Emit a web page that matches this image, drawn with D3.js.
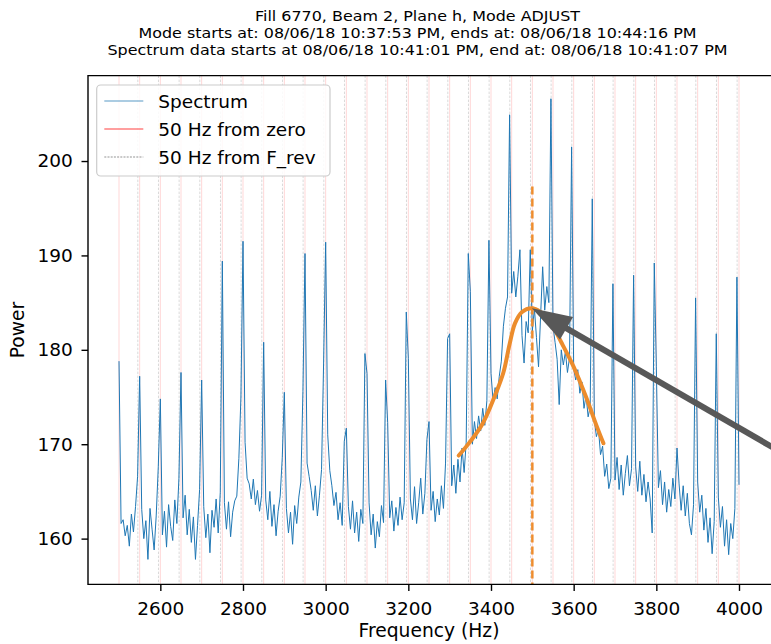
<!DOCTYPE html>
<html><head><meta charset="utf-8">
<script src="https://cdn.jsdelivr.net/npm/d3@7"></script>
<style>body{margin:0;background:#fff}svg{display:block}text{font-family:"DejaVu Sans",sans-serif;fill:#000}</style>
</head><body><svg id="c" width="771" height="644"></svg>
<script>
// ---------- data ----------
const titleLines = [
  "Fill 6770, Beam 2, Plane h, Mode ADJUST",
  "Mode starts at: 08/06/18 10:37:53 PM, ends at: 08/06/18 10:44:16 PM",
  "Spectrum data starts at 08/06/18 10:41:01 PM, end at: 08/06/18 10:41:07 PM"
];
const xLabel = "Frequency (Hz)";
const yLabel = "Power";
const xTicks = [2600, 2800, 3000, 3200, 3400, 3600, 3800, 4000];
const yTicks = [160, 170, 180, 190, 200];
const xDomain = [2425, 4075];
const yDomain = [155.15, 209.05];
const legendLabels = ["Spectrum", "50 Hz from zero", "50 Hz from F_rev"];

// spectrum sampled every 5 Hz from 2500 Hz (one row per 50 Hz)
const freqStart = 2500, freqStep = 5;
const power = [
  178.8,161.6,162.0,160.3,161.4,159.2,162.6,160.7,163.4,166.6,
  177.2,163.1,160.0,161.9,157.8,163.2,161.0,158.8,162.4,167.6,
  174.8,160.4,162.9,159.1,163.6,161.3,159.8,164.1,161.6,166.4,
  177.6,162.2,164.6,160.4,163.1,159.6,162.3,157.8,161.4,165.2,
  176.8,163.4,160.1,162.6,158.5,163.0,161.2,164.2,160.6,164.9,
  189.4,163.8,161.0,163.9,160.2,162.8,164.0,164.5,168.5,175.0,
  191.5,170.2,166.4,165.8,164.2,166.3,163.6,165.1,162.9,164.6,
  180.8,164.1,162.0,165.0,161.3,163.6,160.3,162.9,164.5,168.6,
  175.5,163.2,160.6,162.8,159.4,163.5,161.6,164.4,166.0,175.6,
  190.2,168.0,166.6,165.1,163.0,165.6,162.4,164.6,167.3,178.6,
  191.4,171.0,167.2,165.6,163.5,164.9,162.0,163.8,161.4,170.3,
  171.7,163.4,161.0,164.0,160.6,162.8,159.7,163.1,161.6,179.6,
  177.5,163.8,160.4,162.6,159.0,161.8,160.2,163.5,161.7,176.8,
  172.3,162.2,164.0,160.8,163.3,161.4,164.4,162.0,163.8,184.0,
  179.1,164.2,162.0,165.5,161.6,163.8,166.4,162.6,164.8,170.5,
  172.4,163.0,165.0,161.8,164.2,162.5,165.6,163.2,168.0,181.2,
  181.7,165.6,167.8,164.8,168.4,166.0,169.6,167.0,170.2,190.2,
  186.2,170.0,172.4,170.6,173.0,171.4,173.8,172.0,174.6,191.6,
  177.5,174.6,176.0,174.8,177.2,178.8,182.5,184.4,185.6,204.9,
  186.0,188.3,185.6,187.8,190.6,181.5,178.6,183.0,181.8,190.6,
  182.0,184.4,181.3,178.2,183.6,188.8,184.2,186.7,185.0,206.6,
  182.5,180.8,179.0,174.2,180.0,178.4,179.8,177.6,179.2,201.5,
  178.0,176.8,177.9,175.4,176.6,173.8,175.2,172.9,174.0,196.0,
  172.6,170.8,171.6,168.9,169.8,166.6,167.9,165.3,166.4,187.0,
  166.2,168.6,165.2,167.8,164.6,166.9,168.8,165.6,167.4,187.9,
  167.6,165.0,168.2,164.6,166.8,163.9,166.0,164.2,160.6,189.2,
  178.2,165.4,167.2,163.6,166.0,162.8,165.2,163.4,166.4,164.2,
  169.6,165.8,163.0,165.6,162.4,164.8,161.6,160.4,163.6,185.5,
  166.0,162.8,164.6,160.9,163.2,159.6,162.2,158.4,161.8,181.7,
  164.4,161.2,163.4,159.2,162.0,158.3,161.6,160.0,163.2,187.7,
  165.7
];

const linesFromZero = [2500,2550,2600,2650,2700,2750,2800,2850,2900,2950,3000,3050,3100,3150,3200,3250,
  3300,3350,3400,3450,3500,3550,3600,3650,3700,3750,3800,3850,3900,3950,4000];
const linesFromFrev = [2545.5,2595.5,2645.5,2695.5,2745.5,2795.5,2845.5,2895.5,2945.5,2995.5,3045.5,3095.5,
  3145.5,3195.5,3245.5,3295.5,3345.5,3395.5,3445.5,3495.5,3545.5,3595.5,3645.5,3695.5,3745.5,3795.5,
  3845.5,3895.5,3945.5,3995.5];

const fitFreq  = [3322, 3350, 3380, 3410, 3430, 3445, 3458, 3475, 3498, 3520, 3545, 3570, 3600, 3630, 3655, 3672];
const fitPower = [168.8,170.3,172.2,175.2,177.6,180.6,182.8,184.0,184.4,184.0,182.8,180.8,178.2,175.0,172.0,170.1];

const markerFreq = 3500, markerTop = 197.3;
const arrowTip = [3499, 184.4], arrowTail = [4195, 166.8];

// ---------- layout ----------
const W = 771, H = 644;
const L = 88, R = 770, T = 75.6, B = 584.4;
const svg = d3.select("#c");
const x = d3.scaleLinear().domain(xDomain).range([L, R]);
const y = d3.scaleLinear().domain(yDomain).range([B, T]);

svg.append("defs").append("clipPath").attr("id","clip")
  .append("rect").attr("x",L).attr("y",T).attr("width",R-L+4).attr("height",B-T);
const plot = svg.append("g").attr("clip-path","url(#clip)");

// reference lines
plot.selectAll("line.z").data(linesFromZero).join("line")
  .attr("x1",d=>x(d)).attr("x2",d=>x(d)).attr("y1",T).attr("y2",B)
  .attr("stroke","#ff0000").attr("stroke-opacity",0.16).attr("stroke-width",1);
plot.selectAll("line.f").data(linesFromFrev).join("line")
  .attr("x1",d=>x(d)).attr("x2",d=>x(d)).attr("y1",T).attr("y2",B)
  .attr("stroke","#888").attr("stroke-opacity",0.4).attr("stroke-width",0.8)
  .attr("stroke-dasharray","2.5,1.5");

// spectrum
const spec = power.map((p,i)=>[freqStart + i*freqStep, p]);
plot.append("path").datum(spec)
  .attr("d", d3.line().x(d=>x(d[0])).y(d=>y(d[1])))
  .attr("fill","none").attr("stroke","#1f77b4").attr("stroke-width",1).attr("stroke-linejoin","round");

// orange marker + fit
plot.append("line").attr("x1",x(markerFreq)).attr("x2",x(markerFreq))
  .attr("y1",y(markerTop)).attr("y2",B)
  .attr("stroke","#ee8d2f").attr("stroke-width",2.5).attr("stroke-dasharray","8,4");
const fit = fitFreq.map((f,i)=>[f, fitPower[i]]);
plot.append("path").datum(fit)
  .attr("d", d3.line().curve(d3.curveCatmullRom.alpha(0.5)).x(d=>x(d[0])).y(d=>y(d[1])))
  .attr("fill","none").attr("stroke","#ec8c2c").attr("stroke-width",4).attr("stroke-linecap","round");

// arrow
{
  const tx = x(arrowTip[0]), ty = y(arrowTip[1]);
  const sx = x(arrowTail[0]), sy = y(arrowTail[1]);
  const dx = tx - sx, dy = ty - sy, len = Math.hypot(dx,dy);
  const ux = dx/len, uy = dy/len, px = -uy, py = ux;
  const headLen = 40, headHalf = 13;
  const bx = tx - ux*headLen, by = ty - uy*headLen;
  svg.append("line").attr("x1",sx).attr("y1",sy).attr("x2",bx+ux*2).attr("y2",by+uy*2)
    .attr("stroke","#585858").attr("stroke-width",6);
  svg.append("path").attr("d",`M${tx},${ty}L${bx+px*headHalf},${by+py*headHalf}L${bx-px*headHalf},${by-py*headHalf}Z`)
    .attr("fill","#585858");
}

// axes
const fs = 18.5;
const fmt = d3.format("d");
const xa = svg.append("g").attr("transform",`translate(0,${B})`)
  .call(d3.axisBottom(x).tickValues(xTicks).tickFormat(fmt).tickSize(6.5).tickPadding(10.5).tickSizeOuter(0));
const ya = svg.append("g").attr("transform",`translate(${L},0)`)
  .call(d3.axisLeft(y).tickValues(yTicks).tickFormat(fmt).tickSize(6.5).tickPadding(8.8).tickSizeOuter(0));
[xa,ya].forEach(a=>{
  a.select(".domain").remove();
  a.selectAll(".tick line").attr("stroke","#000").attr("stroke-width",1.4);
  a.selectAll(".tick text").attr("font-size",fs).attr("font-family","DejaVu Sans").attr("fill","#000");
});

// frame (right spine lies at the picture's edge)
svg.append("path").attr("d",`M${W+2},${T}H${L}V${B}H${W+2}`)
  .attr("fill","none").attr("stroke","#000").attr("stroke-width",1.4);

// labels
svg.append("text").attr("x",(L+R)/2).attr("y",637).attr("text-anchor","middle")
  .attr("font-size",18.7).text(xLabel);
svg.append("text").attr("transform",`translate(24,${(T+B)/2}) rotate(-90)`)
  .attr("text-anchor","middle").attr("font-size",18.7).text(yLabel);

// title (slightly condensed vertically like the reference)
const titleWidths = [325, 558, 620];
titleLines.forEach((t,i)=>{
  svg.append("text").attr("x",417.5).attr("y",21.2+i*16.7).attr("text-anchor","middle")
    .attr("font-size",14.2).attr("textLength",titleWidths[i]).attr("lengthAdjust","spacingAndGlyphs")
    .text(t);
});

// legend
const lg = svg.append("g");
lg.append("rect").attr("x",96.7).attr("y",85).attr("width",233.3).attr("height",91).attr("rx",4)
  .attr("fill","#fff").attr("fill-opacity",0.85).attr("stroke","#cccccc").attr("stroke-width",1.2);
const legendStyles = [
  {stroke:"#1f77b4", op:0.5, dash:null, w:1.5},
  {stroke:"#ff0000", op:0.5, dash:null, w:1.5},
  {stroke:"#888888", op:0.9, dash:"2,1.2", w:1}
];
legendLabels.forEach((lab,i)=>{
  const cy = 101 + i*28;
  const s = legendStyles[i];
  const ln = lg.append("line").attr("x1",104.3).attr("x2",143.3).attr("y1",cy).attr("y2",cy)
    .attr("stroke",s.stroke).attr("stroke-opacity",s.op).attr("stroke-width",s.w);
  if (s.dash) ln.attr("stroke-dasharray",s.dash);
  lg.append("text").attr("x",158.3).attr("y",cy).attr("dy","0.36em").attr("font-size",fs).text(lab);
});
</script></body></html>
